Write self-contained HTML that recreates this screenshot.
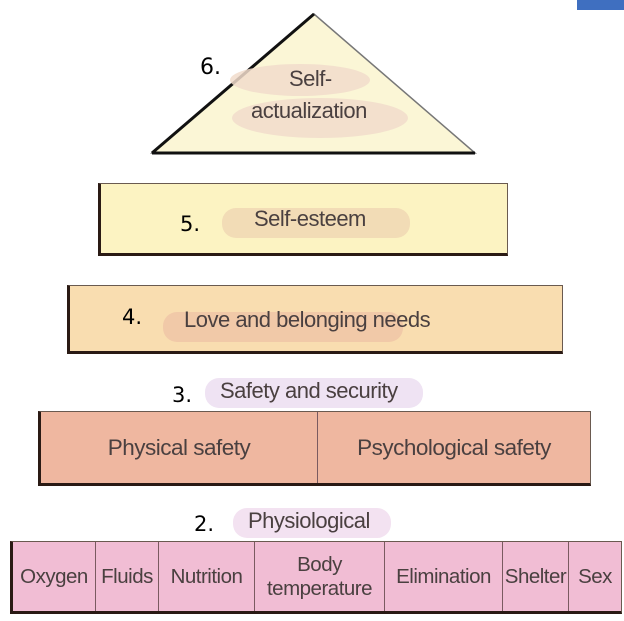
<!DOCTYPE html>
<html><head><style>
body{margin:0;width:624px;height:621px;background:#fff;position:relative;overflow:hidden;font-family:"Liberation Sans",sans-serif;color:#4a4040}
.b{position:absolute;box-sizing:border-box;border:1px solid #6a5a50;border-left:3px solid #2a1a14;border-bottom:3px solid #2a1a14}
.t{position:absolute;font-size:22px;letter-spacing:-0.5px;white-space:nowrap}
.h{position:absolute;border-radius:14px}
.n{position:absolute;font-family:"DejaVu Sans",sans-serif;font-size:21px;color:#000}
.c{position:absolute;top:0;bottom:0;display:flex;align-items:center;justify-content:center;text-align:center;font-size:20.5px;letter-spacing:-0.5px;line-height:24px;border-right:1px solid #7a5a60;box-sizing:border-box}
</style></head><body>
<div style="position:absolute;left:577px;top:0;width:47px;height:10px;background:#3f6fc0"></div>
<svg style="position:absolute;left:0;top:0" width="624" height="170">
<polygon points="314,14 152,153 475,153" fill="#fbf6d6" stroke="#777" stroke-width="1.5"/>
<line x1="314" y1="14" x2="152" y2="153" stroke="#111" stroke-width="3"/>
<line x1="152" y1="153" x2="475" y2="153" stroke="#111" stroke-width="3"/>
<ellipse cx="300" cy="80" rx="70" ry="16" fill="#f1dccb" opacity=".85"/>
<ellipse cx="320" cy="118" rx="88" ry="20" fill="#f1dccb" opacity=".85"/>
</svg>
<div class="t" style="left:289px;top:66px">Self-</div>
<div class="t" style="left:251px;top:98px">actualization</div>
<div class="n" style="left:200px;top:55px;font-size:22px">6.</div>

<div class="b" style="left:98px;top:183px;width:410px;height:73px;background:#fcf3c2"></div>
<div class="h" style="left:222px;top:208px;width:188px;height:30px;background:#f2dcb6"></div>
<div class="t" style="left:254px;top:206px">Self-esteem</div>
<div class="n" style="left:180px;top:212px">5.</div>

<div class="b" style="left:67px;top:285px;width:496px;height:69px;background:#f9ddb0"></div>
<div class="h" style="left:163px;top:312px;width:240px;height:30px;background:#f1c9a8"></div>
<div class="t" style="left:184px;top:307px">Love and belonging needs</div>
<div class="n" style="left:122px;top:305px">4.</div>

<div class="h" style="left:205px;top:378px;width:218px;height:30px;background:#efe3f3"></div>
<div class="t" style="left:220px;top:378px">Safety and security</div>
<div class="n" style="left:172px;top:383px">3.</div>
<div class="b" style="left:38px;top:411px;width:553px;height:75px;background:#efb7a0">
<div class="c" style="left:0;width:277px;font-size:22.5px">Physical safety</div>
<div class="c" style="left:277px;right:0;border-right:0;font-size:22.5px">Psychological safety</div>
</div>

<div class="h" style="left:233px;top:508px;width:158px;height:30px;background:#f3e2f1"></div>
<div class="t" style="left:248px;top:508px">Physiological</div>
<div class="n" style="left:194px;top:512px">2.</div>
<div class="b" style="left:10px;top:541px;width:612px;height:73px;background:#f1bdd4">
<div class="c" style="left:0;width:83px">Oxygen</div>
<div class="c" style="left:83px;width:63px">Fluids</div>
<div class="c" style="left:146px;width:96px">Nutrition</div>
<div class="c" style="left:242px;width:130px">Body<br>temperature</div>
<div class="c" style="left:372px;width:118px">Elimination</div>
<div class="c" style="left:490px;width:66px">Shelter</div>
<div class="c" style="left:556px;right:0;border-right:0">Sex</div>
</div>
</body></html>
